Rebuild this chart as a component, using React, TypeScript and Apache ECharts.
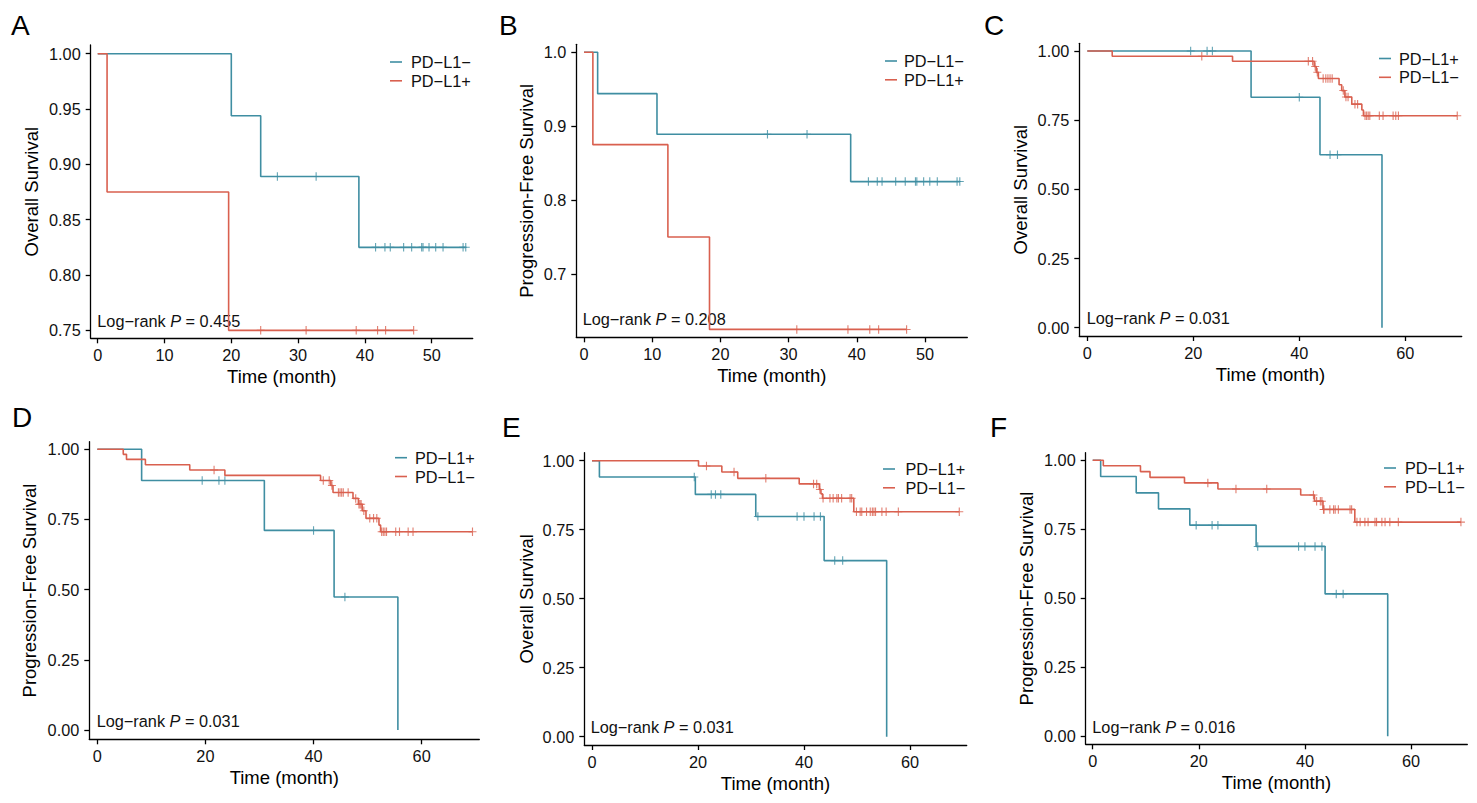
import React, { useEffect, useRef } from "react";
import * as echarts from "echarts";

const TEAL = "#3F8EA2";
const RED = "#D9604F";
const FONT = '"Liberation Sans", Arial, Helvetica, sans-serif';

// ---- tick values ----
const xTicksAB = [0, 10, 20, 30, 40, 50];
const xTicksCF = [0, 20, 40, 60];
const yTicksA = [0.75, 0.8, 0.85, 0.9, 0.95, 1.0];
const yTicksB = [0.7, 0.8, 0.9, 1.0];
const yTicksCF = [0, 0.25, 0.5, 0.75, 1.0];

// ---- A: overall survival ----
const aNegTimes = [0, 20.0, 24.4, 39.1, 55.1];
const aNegSurv = [1, 0.944, 0.889, 0.825, 0.825];
const aNegCensor = [26.9, 32.7, 41.6, 43.0, 43.8, 45.8, 47.0, 48.5, 48.7, 49.6, 50.6, 51.7, 54.7, 55.1];
const aPosTimes = [0, 1.4, 19.6, 47.3];
const aPosSurv = [1, 0.875, 0.75, 0.75];
const aPosCensor = [24.4, 31.2, 38.7, 41.9, 43.1, 47.3];

// ---- B: progression-free survival ----
const bNegTimes = [0, 2.0, 10.7, 39.1, 55.1];
const bNegSurv = [1, 0.944, 0.889, 0.825, 0.825];
const bNegCensor = [26.9, 32.7, 41.7, 43.0, 43.7, 45.7, 47.1, 48.6, 48.8, 49.8, 50.7, 51.8, 54.7, 55.1];
const bPosTimes = [0, 1.3, 12.3, 18.4, 47.3];
const bPosSurv = [1, 0.875, 0.75, 0.625, 0.625];
const bPosCensor = [31.2, 38.7, 41.9, 43.2, 47.3];

// ---- C: overall survival ----
const cPosTimes = [0, 30.9, 43.9, 55.6];
const cPosSurv = [1, 0.833, 0.625, 0];
const cPosCensor = [19.5, 22.6, 23.6, 40.0, 45.8, 47.2];
const cNegTimes = [0, 4.7, 27.4, 42.8, 43.2, 43.6, 47.5, 48.0, 48.6, 49.9, 51.8, 52.1, 69.8];
const cNegSurv = [1, 0.981, 0.963, 0.944, 0.923, 0.901, 0.878, 0.857, 0.834, 0.808, 0.787, 0.766, 0.766];
const cNegCensor = [21.6, 41.7, 42.5, 43.0, 43.4, 44.5, 45.0, 45.4, 45.8, 46.2, 48.3, 48.8, 49.2, 50.5, 51.0, 52.4, 52.7, 53.0, 53.3, 55.1, 55.8, 57.7, 58.2, 58.7, 69.8];

// ---- D: progression-free survival ----
const dPosTimes = [0, 8.2, 30.9, 43.8, 55.6];
const dPosSurv = [1, 0.889, 0.711, 0.474, 0];
const dPosCensor = [19.4, 22.5, 23.6, 40.0, 45.8];
const dNegTimes = [0, 4.8, 5.4, 8.9, 17.1, 23.6, 41.3, 43.2, 43.6, 47.3, 48.3, 49.0, 49.7, 52.1, 52.4, 69.4];
const dNegSurv = [1, 0.982, 0.964, 0.945, 0.926, 0.907, 0.889, 0.871, 0.846, 0.825, 0.804, 0.781, 0.754, 0.73, 0.706, 0.706];
const dNegCensor = [21.6, 41.8, 42.9, 43.4, 44.6, 44.9, 45.2, 45.5, 46.4, 47.8, 48.4, 48.6, 48.8, 49.3, 50.4, 51.1, 51.7, 52.6, 52.9, 53.2, 53.5, 55.2, 55.9, 57.5, 58.4, 69.4];

// ---- E: overall survival ----
const ePosTimes = [0, 1.4, 19.5, 30.9, 43.8, 55.6];
const ePosSurv = [1, 0.941, 0.878, 0.798, 0.638, 0];
const ePosCensor = [19.3, 22.5, 23.3, 24.3, 31.3, 38.7, 40.0, 41.9, 43.1, 45.8, 47.3];
const eNegTimes = [0, 20.1, 24.5, 27.5, 39.1, 42.9, 43.2, 43.5, 49.4, 69.3];
const eNegSurv = [1, 0.981, 0.959, 0.936, 0.916, 0.896, 0.88, 0.864, 0.815, 0.815];
const eNegCensor = [21.6, 26.8, 32.8, 41.8, 42.4, 43.0, 43.6, 44.9, 45.5, 46.2, 46.5, 47.1, 48.7, 49.0, 49.9, 50.6, 50.9, 51.8, 52.5, 52.9, 53.2, 53.5, 54.7, 55.5, 57.8, 69.3];

// ---- F: progression-free survival ----
const fPosTimes = [0, 1.5, 8.2, 12.4, 18.3, 30.8, 43.8, 55.6];
const fPosSurv = [1, 0.941, 0.882, 0.824, 0.765, 0.688, 0.516, 0];
const fPosCensor = [19.5, 22.5, 23.6, 31.1, 38.8, 40.0, 41.9, 43.2, 45.9, 47.2];
const fNegTimes = [0, 2.0, 9.0, 10.8, 17.3, 23.6, 39.2, 41.8, 43.4, 49.4, 69.4];
const fNegSurv = [1, 0.98, 0.959, 0.938, 0.918, 0.896, 0.874, 0.852, 0.822, 0.776, 0.776];
const fNegCensor = [21.7, 27.0, 32.8, 41.6, 42.2, 42.9, 43.2, 43.5, 43.6, 44.7, 45.4, 45.7, 46.3, 48.5, 48.8, 49.8, 50.4, 51.3, 51.9, 53.2, 53.5, 54.5, 55.1, 56.0, 57.6, 69.4];

const pValues = ["0.455", "0.208", "0.031", "0.031", "0.031", "0.016"];

type Curve = { name: string; color: string; times: number[]; surv: number[]; censor: number[] };

const NEG = "PD\u2212L1\u2212";
const POS = "PD\u2212L1+";

// step value of a Kaplan–Meier curve at time t
function survAt(times: number[], surv: number[], t: number) {
  let s = surv[0];
  for (let i = 0; i < times.length; i++) if (times[i] <= t) s = surv[i];
  return s;
}

const panels = [
  {
    letter: "A", letterXY: [11, 25],
    grid: { left: 90.7, top: 45, width: 382, height: 293.3 },
    xRange: [-1.05, 56.14], xTicks: xTicksAB, yRange: [0.7428, 1.0079], yTicks: yTicksA, yDigits: 2,
    yTitle: "Overall Survival", yGap: 50,
    curves: [
      { name: NEG, color: TEAL, times: aNegTimes, surv: aNegSurv, censor: aNegCensor },
      { name: POS, color: RED, times: aPosTimes, surv: aPosSurv, censor: aPosCensor },
    ] as Curve[],
    legend: { x: 390, y: 62, textX: 411 }, pXY: [97.3, 320.7],
  },
  {
    letter: "B", letterXY: [499, 25],
    grid: { left: 576.3, top: 44.3, width: 391, height: 293 },
    xRange: [-1.13, 56.2], xTicks: xTicksAB, yRange: [0.6143, 1.0108], yTicks: yTicksB, yDigits: 1,
    yTitle: "Progression-Free Survival", yGap: 41,
    curves: [
      { name: NEG, color: TEAL, times: bNegTimes, surv: bNegSurv, censor: bNegCensor },
      { name: POS, color: RED, times: bPosTimes, surv: bPosSurv, censor: bPosCensor },
    ] as Curve[],
    legend: { x: 885, y: 61, textX: 904 }, pXY: [582.7, 319.3],
  },
  {
    letter: "C", letterXY: [984, 25],
    grid: { left: 1079.3, top: 43.3, width: 382.4, height: 292.7 },
    xRange: [-1.51, 70.64], xTicks: xTicksCF, yRange: [-0.03, 1.028], yTicks: yTicksCF, yDigits: 2,
    yTitle: "Overall Survival", yGap: 50,
    curves: [
      { name: POS, color: TEAL, times: cPosTimes, surv: cPosSurv, censor: cPosCensor },
      { name: NEG, color: RED, times: cNegTimes, surv: cNegSurv, censor: cNegCensor },
    ] as Curve[],
    legend: { x: 1379, y: 58.5, textX: 1399 }, pXY: [1086.7, 318.3],
  },
  {
    letter: "D", letterXY: [12, 417],
    grid: { left: 89.3, top: 441.7, width: 390, height: 297.6 },
    xRange: [-1.48, 70.66], xTicks: xTicksCF, yRange: [-0.033, 1.027], yTicks: yTicksCF, yDigits: 2,
    yTitle: "Progression-Free Survival", yGap: 51,
    curves: [
      { name: POS, color: TEAL, times: dPosTimes, surv: dPosSurv, censor: dPosCensor },
      { name: NEG, color: RED, times: dNegTimes, surv: dNegSurv, censor: dNegCensor },
    ] as Curve[],
    legend: { x: 395, y: 457.7, textX: 415 }, pXY: [96.7, 720.7],
  },
  {
    letter: "E", letterXY: [502, 427],
    grid: { left: 584.3, top: 452.7, width: 382.4, height: 292.3 },
    xRange: [-1.45, 70.7], xTicks: xTicksCF, yRange: [-0.03, 1.029], yTicks: yTicksCF, yDigits: 2,
    yTitle: "Overall Survival", yGap: 49,
    curves: [
      { name: POS, color: TEAL, times: ePosTimes, surv: ePosSurv, censor: ePosCensor },
      { name: NEG, color: RED, times: eNegTimes, surv: eNegSurv, censor: eNegCensor },
    ] as Curve[],
    legend: { x: 883, y: 469, textX: 905.5 }, pXY: [590.7, 726.7],
  },
  {
    letter: "F", letterXY: [990, 427],
    grid: { left: 1085.7, top: 452.7, width: 381.6, height: 291.6 },
    xRange: [-1.32, 70.6], xTicks: xTicksCF, yRange: [-0.029, 1.0275], yTicks: yTicksCF, yDigits: 2,
    yTitle: "Progression-Free Survival", yGap: 50,
    curves: [
      { name: POS, color: TEAL, times: fPosTimes, surv: fPosSurv, censor: fPosCensor },
      { name: NEG, color: RED, times: fNegTimes, surv: fNegSurv, censor: fNegCensor },
    ] as Curve[],
    legend: { x: 1384, y: 468, textX: 1405 }, pXY: [1092.3, 726.7],
  },
];

// plus-shaped censor mark
const PLUS = "path://M4.3,0 L5.7,0 L5.7,4.4 L10,4.4 L10,5.6 L5.7,5.6 L5.7,10 L4.3,10 L4.3,5.6 L0,5.6 L0,4.4 L4.3,4.4 Z";

function buildOption() {
  const grid: any[] = [];
  const xAxis: any[] = [];
  const yAxis: any[] = [];
  const series: any[] = [];
  const graphic: any[] = [];
  const axisLine = { show: true, onZero: false, lineStyle: { color: "#000", width: 1.3 } };

  panels.forEach((p, i) => {
    grid.push({ ...p.grid, containLabel: false });
    xAxis.push({
      type: "value", gridIndex: i, min: p.xRange[0], max: p.xRange[1],
      axisLine,
      axisTick: { show: true, length: 5, lineStyle: { color: "#000", width: 1.3 }, customValues: p.xTicks },
      axisLabel: { show: true, margin: 9, fontSize: 16.3, color: "#111", fontFamily: FONT, customValues: p.xTicks, formatter: (v: number) => String(v) },
      splitLine: { show: false },
      name: "Time (month)", nameLocation: "middle", nameGap: 29,
      nameTextStyle: { fontSize: 18.5, color: "#000", fontFamily: FONT },
    });
    yAxis.push({
      type: "value", gridIndex: i, min: p.yRange[0], max: p.yRange[1],
      axisLine,
      axisTick: { show: true, length: 5, lineStyle: { color: "#000", width: 1.3 }, customValues: p.yTicks },
      axisLabel: { show: true, margin: 10, fontSize: 16.3, color: "#111", fontFamily: FONT, customValues: p.yTicks, formatter: (v: number) => v.toFixed(p.yDigits) },
      splitLine: { show: false },
      name: p.yTitle, nameLocation: "middle", nameGap: p.yGap - 0.5,
      nameTextStyle: { fontSize: 18.5, color: "#000", fontFamily: FONT },
    });

    p.curves.forEach((c) => {
      series.push({
        type: "line", name: c.name, xAxisIndex: i, yAxisIndex: i, step: "end",
        showSymbol: false, symbol: "none", silent: true,
        lineStyle: { color: c.color, width: 1.6 },
        data: c.times.map((t, k) => [t, c.surv[k]]),
      });
    });
    p.curves.forEach((c) => {
      series.push({
        type: "scatter", name: c.name, xAxisIndex: i, yAxisIndex: i, silent: true,
        symbol: PLUS, symbolSize: [8, 8.5],
        itemStyle: { color: c.color },
        data: c.censor.map((t) => [t, survAt(c.times, c.surv, t)]),
      });
    });

    // panel letter
    graphic.push({
      type: "text", x: p.letterXY[0], y: p.letterXY[1],
      style: { text: p.letter, fontSize: 28, fontFamily: FONT, fill: "#000", align: "left", verticalAlign: "middle" },
    });
    // legend
    p.curves.forEach((c, k) => {
      const y = p.legend.y + k * 18.8;
      graphic.push({
        type: "line", shape: { x1: p.legend.x, y1: y, x2: p.legend.x + 12, y2: y },
        style: { stroke: c.color, lineWidth: 1.6 },
      });
      graphic.push({
        type: "text", x: p.legend.textX, y,
        style: { text: c.name, fontSize: 16.3, fontFamily: FONT, fill: "#111", align: "left", verticalAlign: "middle" },
      });
    });
    // log-rank p value
    graphic.push({
      type: "text", x: p.pXY[0], y: p.pXY[1],
      style: {
        text: "Log\u2212rank {i|P} = " + pValues[i],
        fontSize: 16.3, fontFamily: FONT, fill: "#111", align: "left", verticalAlign: "middle",
        rich: { i: { fontStyle: "italic", fontSize: 16.3, fontFamily: FONT, fill: "#111" } },
      },
    });
  });

  return { animation: false, backgroundColor: "#fff", grid, xAxis, yAxis, series, graphic };
}

export default function App() {
  const ref = useRef<HTMLDivElement>(null);
  useEffect(() => {
    if (!ref.current) return;
    const chart = echarts.init(ref.current, undefined, { renderer: "svg" });
    chart.setOption(buildOption() as any);
    return () => chart.dispose();
  }, []);
  return (
    <div
      ref={ref}
      style={{ position: "fixed", left: 0, top: 0, width: 1477, height: 803, background: "#fff" }}
    />
  );
}
